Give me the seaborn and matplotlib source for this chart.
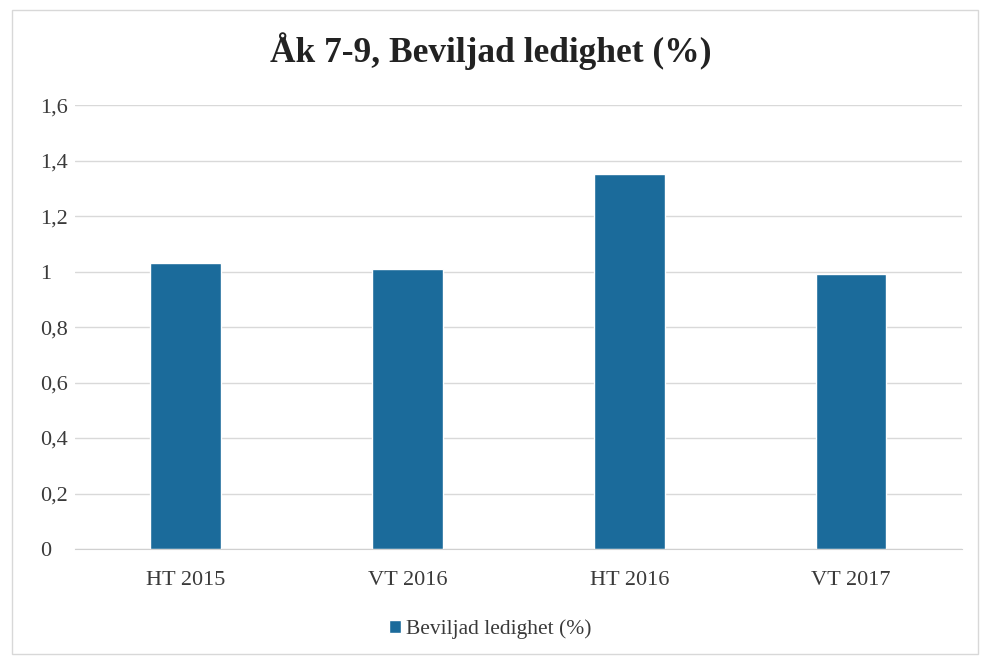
import numpy as np
import pandas as pd
import matplotlib
matplotlib.use("Agg")
import matplotlib.pyplot as plt
import seaborn as sns
from matplotlib.patches import Rectangle, Patch
from matplotlib.ticker import FuncFormatter

# data
terms = ["HT 2015", "VT 2016", "HT 2016", "VT 2017"]
ledighet = [1.03, 1.01, 1.35, 0.99]
series_name = "Beviljad ledighet (%)"
title = "Åk 7-9, Beviljad ledighet (%)"

df = pd.DataFrame({"Termin": terms, "Värde": ledighet})

sns.set_style("white")
plt.rcParams["font.family"] = ["Liberation Serif", "DejaVu Serif"]

bar_color = "#1b6b9b"
text_color = "#3a3a3a"

fig = plt.figure(figsize=(9.81, 6.61), dpi=100)
ax = fig.add_axes([0.0765, 0.1694, 0.904, 0.6716])

sns.barplot(data=df, x="Termin", y="Värde", color=bar_color, width=0.32,
            saturation=1, ax=ax)


def comma_fmt(v, pos):
    if abs(v) < 1e-9:
        return "0"
    if abs(v - 1) < 1e-9:
        return "1"
    return f"{v:.1f}".replace(".", ",")


ax.set_ylim(0, 1.6)
ax.set_yticks(np.arange(0, 1.61, 0.2))
ax.yaxis.set_major_formatter(FuncFormatter(comma_fmt))
ax.grid(axis="y", color="#d9d9d9", linewidth=1)
ax.set_axisbelow(True)
for s in ["top", "right", "left"]:
    ax.spines[s].set_visible(False)
ax.spines["bottom"].set_color("#d0d0d0")
ax.set_xlabel("")
ax.set_ylabel("")
ax.tick_params(axis="both", length=0, labelsize=16, colors=text_color)
ax.tick_params(axis="y", pad=25)
ax.tick_params(axis="x", pad=16)
for lbl in ax.get_yticklabels():
    lbl.set_horizontalalignment("left")

fig.text(0.5, 0.922, title, ha="center", va="center", fontsize=25.5,
         fontweight="bold", color="#222222")

handles = [Patch(facecolor=bar_color, label=series_name)]
fig.legend(handles=handles, loc="center", bbox_to_anchor=(0.5, 0.048),
           frameon=False, fontsize=15.5, handlelength=0.55, handleheight=0.55,
           handletextpad=0.25, labelcolor=text_color)

# thin frame of the chart area
fig.patches.append(Rectangle((0.012, 0.01), 0.985, 0.975, transform=fig.transFigure,
                             fill=False, edgecolor="#d8d8d8", linewidth=1))

fig.savefig("out.png", dpi=100)
